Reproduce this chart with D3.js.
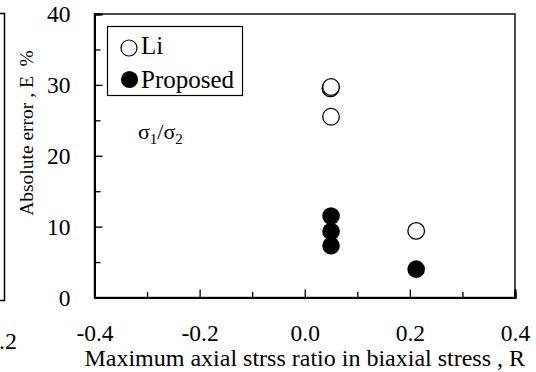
<!DOCTYPE html>
<html>
<head>
<meta charset="utf-8">
<script src="https://cdn.jsdelivr.net/npm/d3@7"></script>
<style>
  body { margin: 0; background: #fff; }
</style>
</head>
<body>
<div id="chart"></div>
<script>
// data
var liR = [0.049, 0.050, 0.050, 0.212];
var liE = [29.5, 29.7, 25.5, 9.4];
var propR = [0.050, 0.050, 0.050, 0.212];
var propE = [11.5, 9.3, 7.3, 4.0];

var xMajor = [-0.4, -0.2, 0.0, 0.2, 0.4];
var xMinor = [-0.3, -0.1, 0.1, 0.3];
var yMajor = [0, 10, 20, 30, 40];
var yMinor = [5, 15, 25, 35];

var W = 536, H = 372;
var pLeft = 94.5, pRight = 515, pTop = 14, pBottom = 297.5;
var serif = "'Liberation Serif', 'Times New Roman', serif";

var svg = d3.select("#chart").append("svg")
  .attr("width", W)
  .attr("height", H)
  .style("font-family", serif);

var x = d3.scaleLinear().domain([-0.4, 0.4]).range([pLeft, pRight]);
var y = d3.scaleLinear().domain([0, 40]).range([pBottom, pTop]);

// piece of the neighbouring figure cut off at the left edge
svg.append("path")
  .attr("d", "M0,13.5 H4.5 V300.5 H0")
  .attr("fill", "none")
  .attr("stroke", "#000")
  .attr("stroke-width", 1.5);
svg.append("text")
  .attr("x", 17)
  .attr("y", 349)
  .attr("text-anchor", "end")
  .style("font-size", "24px")
  .text(".2");

// frame
svg.append("rect")
  .attr("x", pLeft).attr("y", pTop)
  .attr("width", pRight - pLeft).attr("height", pBottom - pTop)
  .attr("fill", "none")
  .attr("stroke", "#000")
  .attr("stroke-width", 1.4);

var fmt = function (d) { return d.toFixed(1); };

// x axis
svg.append("g").attr("transform", "translate(0," + pBottom + ")")
  .call(d3.axisBottom(x).tickValues(xMajor).tickSize(-8).tickPadding(27).tickFormat(fmt));
svg.append("g").attr("transform", "translate(0," + pBottom + ")")
  .call(d3.axisBottom(x).tickValues(xMinor).tickSize(-5.5).tickFormat(""));

// y axis
svg.append("g").attr("transform", "translate(" + pLeft + ",0)")
  .call(d3.axisLeft(y).tickValues(yMajor).tickSize(-8).tickPadding(24).tickFormat(d3.format("d")));
svg.append("g").attr("transform", "translate(" + pLeft + ",0)")
  .call(d3.axisLeft(y).tickValues(yMinor).tickSize(-6).tickFormat(""));

svg.selectAll("g").attr("font-family", null).attr("font-size", null);
svg.selectAll(".domain").attr("stroke-width", 2);
svg.selectAll(".tick line").attr("stroke-width", 1.3);
svg.selectAll(".tick text")
  .style("font-family", serif)
  .style("font-size", "23.5px")
  .attr("fill", "#000");

// axis titles
svg.append("text")
  .attr("x", (pLeft + pRight) / 2)
  .attr("y", 366)
  .attr("text-anchor", "middle")
  .style("font-size", "24px")
  .text("Maximum axial strss ratio in biaxial stress , R");

svg.append("text")
  .attr("transform", "translate(33,133) rotate(-90)")
  .attr("text-anchor", "middle")
  .style("font-size", "19.5px")
  .style("white-space", "pre")
  .text("Absolute error , E  %");

// points
var li = liR.map(function (r, i) { return { r: r, e: liE[i] }; });
var prop = propR.map(function (r, i) { return { r: r, e: propE[i] }; });

svg.append("g").selectAll("circle").data(li).enter().append("circle")
  .attr("cx", function (d) { return x(d.r); })
  .attr("cy", function (d) { return y(d.e); })
  .attr("r", 8.3)
  .attr("fill", "#fff")
  .attr("stroke", "#000")
  .attr("stroke-width", 1.3);

svg.append("g").selectAll("circle").data(prop).enter().append("circle")
  .attr("cx", function (d) { return x(d.r); })
  .attr("cy", function (d) { return y(d.e); })
  .attr("r", 8.8)
  .attr("fill", "#000");

// legend
var lg = svg.append("g");
lg.append("rect")
  .attr("x", 107.5).attr("y", 26.5)
  .attr("width", 135).attr("height", 69)
  .attr("fill", "#fff")
  .attr("stroke", "#000")
  .attr("stroke-width", 1.2);
lg.append("circle").attr("cx", 129).attr("cy", 48).attr("r", 8)
  .attr("fill", "#fff").attr("stroke", "#000").attr("stroke-width", 1.2);
lg.append("circle").attr("cx", 129.5).attr("cy", 79.5).attr("r", 8.6)
  .attr("fill", "#000");
lg.append("text").attr("x", 141).attr("y", 54).style("font-size", "25px").text("Li");
lg.append("text").attr("x", 141).attr("y", 88).style("font-size", "25px").text("Proposed");

// stress ratio note
var note = svg.append("text").attr("x", 138).attr("y", 139).style("font-size", "22px");
note.append("tspan").text("σ");
note.append("tspan").style("font-size", "15px").attr("dy", 5).text("1");
note.append("tspan").attr("dy", -5).text("/σ");
note.append("tspan").style("font-size", "15px").attr("dy", 5).text("2");
</script>
</body>
</html>
